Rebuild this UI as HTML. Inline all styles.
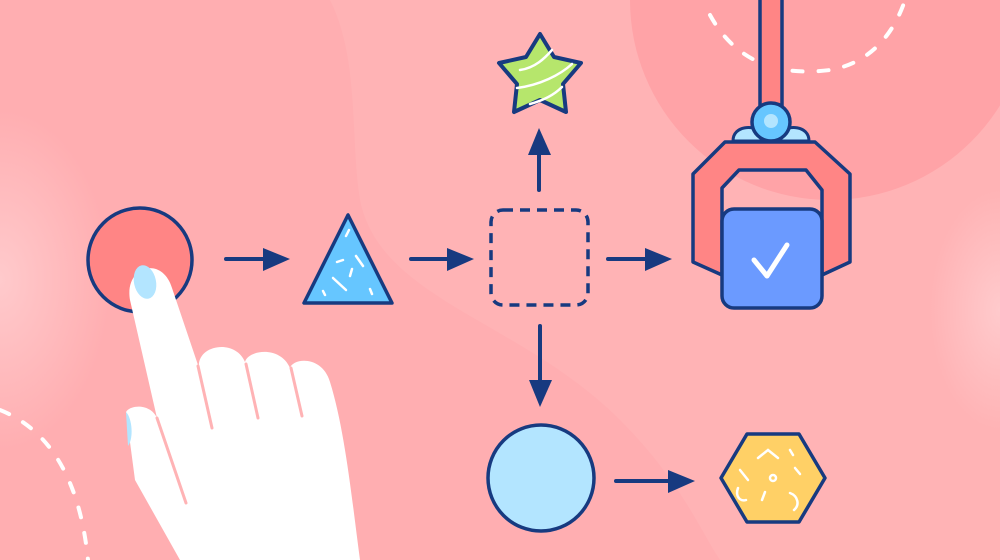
<!DOCTYPE html>
<html><head><meta charset="utf-8"><style>html,body{margin:0;padding:0;width:1000px;height:560px;overflow:hidden;background:#ffb3b5}</style></head>
<body>
<svg width="1000" height="560" viewBox="0 0 1000 560" xmlns="http://www.w3.org/2000/svg">
<defs>
<radialGradient id="g1" cx="0.5" cy="0.5" r="0.5"><stop offset="0" stop-color="#ffcacc"/><stop offset="1" stop-color="#ffcacc" stop-opacity="0"/></radialGradient>
</defs>
<rect width="1000" height="560" fill="#ffb3b5"/>
<path d="M0 0 H330 C360 60 350 140 360 200 C380 300 520 320 620 420 C680 480 700 530 720 560 H0 Z" fill="#ffaeb1"/>
<ellipse cx="0" cy="280" rx="110" ry="170" fill="url(#g1)"/>
<circle cx="830" cy="0" r="200" fill="#ffa3a7"/>
<ellipse cx="1000" cy="310" rx="70" ry="120" fill="url(#g1)"/>
<path d="M710 15 C740 70 790 75 830 70 C860 65 890 45 905 0" fill="none" stroke="#fff" stroke-width="4" stroke-linecap="round" stroke-dasharray="10 16"/>
<path d="M0 410 C50 430 80 480 88 560" fill="none" stroke="#fff" stroke-width="4" stroke-linecap="round" stroke-dasharray="10 16"/>

<g stroke="#173a80" stroke-width="4" stroke-linecap="round" fill="#173a80">
<line x1="226" y1="259" x2="268" y2="259"/><path d="M263 248 L290 259 L263 271 Z" stroke="none"/>
<line x1="411" y1="259" x2="452" y2="259"/><path d="M447 248 L474 259 L447 271 Z" stroke="none"/>
<line x1="608" y1="259" x2="650" y2="259"/><path d="M645 248 L672 259 L645 271 Z" stroke="none"/>
<line x1="539" y1="190" x2="539" y2="150"/><path d="M528 155 L539 128 L551 155 Z" stroke="none"/>
<line x1="540" y1="326" x2="540" y2="385"/><path d="M529 380 L540 407 L552 380 Z" stroke="none"/>
<line x1="616" y1="481" x2="673" y2="481"/><path d="M668 470 L695 481 L668 493 Z" stroke="none"/>
</g>

<circle cx="140" cy="260" r="52" fill="#ff8585" stroke="#173a80" stroke-width="3.5"/>
<path d="M348 215 L304 303 L392 303 Z" fill="#66c6ff" stroke="#173a80" stroke-width="3.5" stroke-linejoin="round"/>
<g stroke="#fff" stroke-width="2.5" stroke-linecap="round"><line x1="349" y1="230" x2="346" y2="236"/><line x1="337" y1="262" x2="343" y2="260"/><line x1="356" y1="256" x2="363" y2="266"/><line x1="350" y1="276" x2="352" y2="269"/><line x1="333" y1="278" x2="346" y2="290"/><line x1="323" y1="291" x2="325" y2="295"/><line x1="370" y1="289" x2="372" y2="294"/></g>
<rect x="491" y="210" width="97" height="95" rx="12" fill="none" stroke="#173a80" stroke-width="3.5" stroke-dasharray="10 7"/>
<path d="M540 34 L554 57 L581 63 L563 84 L566 112 L540 100 L514 112 L517 84 L499 63 L526 57 Z" fill="#b6e66c" stroke="#173a80" stroke-width="4" stroke-linejoin="round"/>
<g stroke="#fff" stroke-width="2.5" fill="none" stroke-linecap="round"><path d="M520 70 C535 68 545 58 552 50"/><path d="M517 88 C540 85 560 75 572 64"/><path d="M530 104 C545 100 555 94 562 87"/></g>

<rect x="760" y="-5" width="22" height="115" fill="#ff8585" stroke="#173a80" stroke-width="3.5"/>
<path d="M733 141 C733 125 755 125 760 132 H782 C787 125 809 125 809 141 Z" fill="#b3e5ff" stroke="#173a80" stroke-width="3"/>
<circle cx="771" cy="122" r="19" fill="#66c6ff" stroke="#173a80" stroke-width="3.5"/>
<circle cx="771" cy="121" r="7" fill="#b3e5ff"/>
<path d="M725 142 H815 L850 174 V262 L822 275 V190 L806 170 H739 L722 188 V275 L693 262 V174 Z" fill="#ff8585" stroke="#173a80" stroke-width="3.5" stroke-linejoin="round"/>
<rect x="722" y="209" width="100" height="99" rx="12" fill="#6b9aff" stroke="#173a80" stroke-width="3.5"/>
<path d="M754 260 L767 276 L787 245" fill="none" stroke="#fff" stroke-width="5" stroke-linecap="round" stroke-linejoin="round"/>

<circle cx="541" cy="478" r="53" fill="#b3e5ff" stroke="#173a80" stroke-width="3.5"/>
<path d="M747 434 H799 L825 478 L799 522 H747 L721 478 Z" fill="#ffd066" stroke="#173a80" stroke-width="3.5" stroke-linejoin="round"/>
<g stroke="#fff" stroke-width="2.5" fill="none" stroke-linecap="round"><path d="M758 458 L768 450 L778 458"/><line x1="790" y1="450" x2="793" y2="455"/><line x1="740" y1="470" x2="748" y2="480"/><circle cx="773" cy="478" r="3"/><line x1="795" y1="468" x2="800" y2="474"/><path d="M738 488 C735 496 740 502 746 500"/><line x1="762" y1="500" x2="765" y2="492"/><path d="M790 493 C798 496 800 505 794 510"/></g>

<!-- hand -->
<path d="M126 412 C130 405 150 403 157 418 L130 300 C124 266 162 255 172 288 L199 368 C196 345 235 338 245 362 C248 350 280 345 290 368 C293 358 322 355 330 382 C345 430 352 500 360 560 H180 L135 480 Z" fill="#fff"/>
<path d="M126 412 C132 418 134 438 128 446 Z" fill="#b3e5ff"/>
<ellipse cx="145" cy="282" rx="11" ry="17" transform="rotate(-12 145 282)" fill="#b3e5ff"/>
<g stroke="#ffb3b5" stroke-width="3" stroke-linecap="round" fill="none"><line x1="157" y1="418" x2="186" y2="503"/><line x1="198" y1="366" x2="212" y2="428"/><line x1="246" y1="364" x2="258" y2="418"/><line x1="291" y1="368" x2="302" y2="416"/></g>
</svg>
</body></html>
